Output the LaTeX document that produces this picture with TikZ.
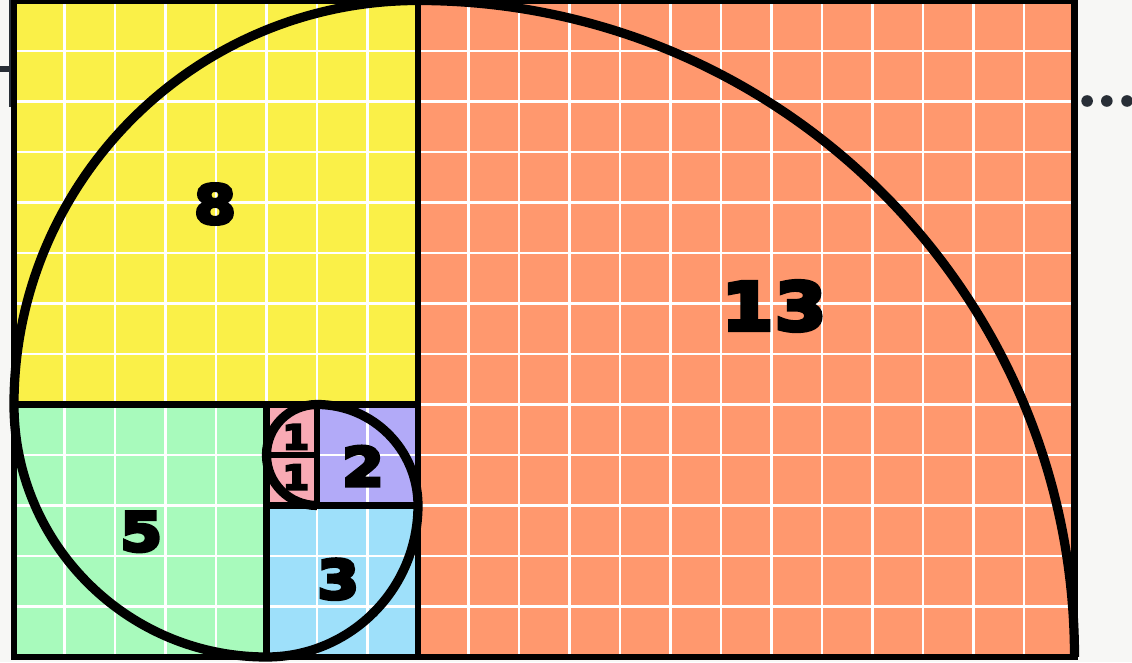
\documentclass[tikz,border=0pt]{standalone}
\usepackage{fontspec}
\newfontfamily\numfont[FakeStretch=1.12, FakeBold=7]{DejaVu Sans}
\definecolor{sqyellow}{RGB}{250,240,72}
\definecolor{sqsalmon}{RGB}{255,152,110}
\definecolor{sqgreen}{RGB}{168,250,188}
\definecolor{sqblue}{RGB}{158,224,250}
\definecolor{sqviolet}{RGB}{178,170,248}
\definecolor{sqpink}{RGB}{248,170,180}
\definecolor{paper}{RGB}{247,247,245}
\definecolor{ink}{RGB}{40,46,54}

\begin{document}
\begin{tikzpicture}[
    x=1cm, y=1cm,
    square/.style={draw=black, line width=3.4pt},
    gridline/.style={white, line width=1.2pt},
    spiral/.style={draw=black, line width=5.2pt},
    num/.style={inner sep=0pt, font=\numfont\bfseries\fontsize{30}{30}\selectfont},
    bignum/.style={num, font=\numfont\bfseries\fontsize{37}{37}\selectfont},
    smallnum/.style={num, font=\numfont\bfseries\fontsize{19}{19}\selectfont}
  ]
    \useasboundingbox[fill=paper] (-0.277,-0.1) rectangle (22.139,13.01);

    % squares
    \fill[sqsalmon] (8,0) rectangle (21,13);
    \fill[sqyellow] (0,5) rectangle (8,13);
    \fill[sqgreen] (0,0) rectangle (5,5);
    \fill[sqblue] (5,0) rectangle (8,3);
    \fill[sqviolet] (6,3) rectangle (8,5);
    \fill[sqpink] (5,3) rectangle (6,5);
    \draw[gridline, step=1] (0,0) grid (21,13);

    \draw[square] (8,0) rectangle (21,13);
    \draw[square] (0,5) rectangle (8,13);
    \draw[square] (0,0) rectangle (5,5);
    \draw[square] (5,0) rectangle (8,3);
    \draw[square] (6,3) rectangle (8,5);
    \draw[square] (5,4) rectangle (6,5);
    \draw[square] (5,3) rectangle (6,4);

    % spiral
    \draw[spiral] (21,0) arc[start angle=0, end angle=90, radius=13]
      arc[start angle=90, end angle=180, radius=8]
      arc[start angle=180, end angle=270, radius=5]
      arc[start angle=270, end angle=360, radius=3]
      arc[start angle=0, end angle=90, radius=2]
      arc[start angle=90, end angle=180, radius=1]
      arc[start angle=180, end angle=270, radius=1];

    \node[bignum] (thirteen) at (15.05,6.95) {1\kern0.03em3};
    \node[num] (eight) at (3.98,8.97) {8};
    \node[num] (five) at (2.52,2.48) {5};
    \node[num] (three) at (6.42,1.54) {3};
    \node[num] (two) at (6.91,3.78) {2};
    \node[smallnum] (oneup) at (5.58,4.36) {1};
    \node[smallnum] (onedown) at (5.58,3.56) {1};

    % background bits
    \fill[ink] (21.25,11.01) circle (0.115);
    \fill[ink] (21.64,11.01) circle (0.115);
    \fill[ink] (22.04,11.01) circle (0.115);
    \fill[ink] (-0.3,11.58) rectangle (-0.06,11.7);
    \fill[ink] (-0.1,10.9) rectangle (-0.06,13.1);
  \end{tikzpicture}
\end{document}
